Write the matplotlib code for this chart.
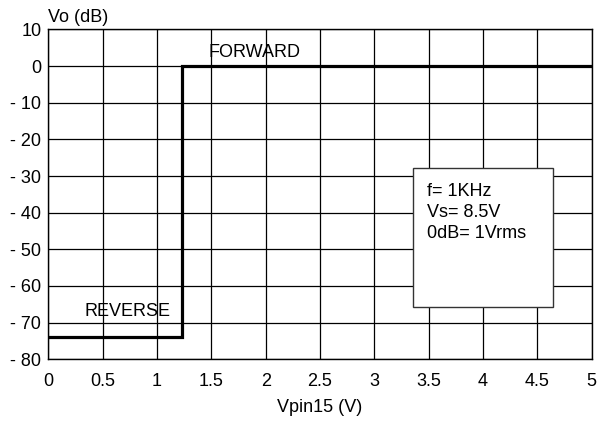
import matplotlib
matplotlib.use("Agg")
import numpy as np
import matplotlib.pyplot as plt

plt.rcParams['font.family'] = ['Liberation Sans', 'DejaVu Sans']

# step response data
vpin = [0, 1.227, 1.227, 5]
vo_db = [-74, -74, 0, 0]

x_ticks = [0, 0.5, 1, 1.5, 2, 2.5, 3, 3.5, 4, 4.5, 5]
x_labels = ['0', '0.5', '1', '1.5', '2', '2.5', '3', '3.5', '4', '4.5', '5']
y_ticks = [10, 0, -10, -20, -30, -40, -50, -60, -70, -80]

notes = "f= 1KHz\nVs= 8.5V\n0dB= 1Vrms"

fig = plt.figure(figsize=(6.07, 4.21), dpi=100)
ax = fig.add_axes([0.0796, 0.1466, 0.8952, 0.7834])

ax.plot(vpin, vo_db, color='black', lw=2.3, solid_joinstyle='miter', zorder=3)

ax.set_xlim(0, 5)
ax.set_ylim(-80, 10)
ax.set_xticks(x_ticks)
ax.set_xticklabels(x_labels)
ax.set_yticks(y_ticks)
ax.set_yticklabels([str(v).replace('-', '- ') if v < 0 else str(v) for v in y_ticks])
ax.tick_params(length=0, labelsize=13)
ax.tick_params(axis='x', pad=10)
ax.tick_params(axis='y', pad=5)
ax.grid(True, color='black', lw=0.9)
for s in ax.spines.values():
    s.set_linewidth(1.0)

ax.text(0.0, 1.012, "Vo (dB)", transform=ax.transAxes, fontsize=13,
        ha='left', va='bottom')
ax.set_xlabel("Vpin15 (V)", fontsize=13, labelpad=6)

ax.text(1.90, 1.3, "FORWARD", fontsize=13, ha='center', va='bottom')
ax.text(0.733, -69.2, "REVERSE", fontsize=13, ha='center', va='bottom')

box = plt.Rectangle((3.36, -65.7), 1.28, 37.8, facecolor='white',
                    edgecolor='#333333', lw=1.0, zorder=4)
ax.add_patch(box)
ax.text(3.48, -32.0, notes, fontsize=13, ha='left', va='top',
        linespacing=1.3, zorder=5)

fig.savefig("out.png", dpi=100)
